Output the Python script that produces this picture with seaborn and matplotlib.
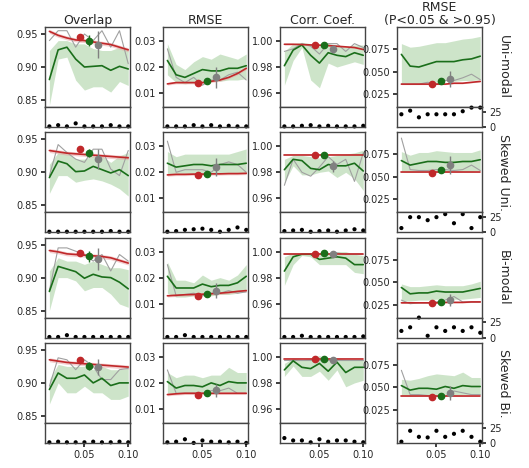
import numpy as np
import pandas as pd
import matplotlib
matplotlib.use("Agg")
import matplotlib.pyplot as plt
import seaborn as sns

x = [0.01, 0.02, 0.03, 0.04, 0.05, 0.06, 0.07, 0.08, 0.09, 0.10]
col_titles = ["Overlap", "RMSE", "Corr. Coef.", "RMSE\n(P<0.05 & >0.95)"]
row_titles = ["Uni-modal", "Skewed Uni.", "Bi-modal", "Skewed Bi."]
ylims = [(0.8394, 0.9606), (0.0046, 0.0354), (0.9492, 1.0108), (0.0106, 0.0994)]
yticks = [[0.85, 0.90, 0.95], [0.01, 0.02, 0.03], [0.96, 0.98, 1.00], [0.025, 0.050, 0.075]]
ytick_fmt = ["{:.2f}", "{:.2f}", "{:.2f}", "{:.3f}"]

green = {
 (0,0): [0.881,0.926,0.930,0.912,0.900,0.901,0.902,0.895,0.901,0.897],
 (0,1): [0.0225,0.017,0.016,0.0175,0.019,0.0185,0.0185,0.0195,0.0195,0.0205],
 (0,2): [0.981,0.993,0.997,0.989,0.983,0.991,0.989,0.988,0.991,0.989],
 (0,3): [0.069,0.056,0.055,0.058,0.061,0.061,0.061,0.063,0.064,0.067],
 (1,0): [0.892,0.917,0.913,0.901,0.902,0.909,0.904,0.899,0.904,0.895],
 (1,1): [0.0235,0.022,0.0225,0.023,0.023,0.0225,0.023,0.023,0.023,0.0235],
 (1,2): [0.982,0.990,0.989,0.983,0.982,0.986,0.985,0.985,0.987,0.981],
 (1,3): [0.068,0.063,0.065,0.067,0.067,0.066,0.066,0.067,0.067,0.069],
 (2,0): [0.879,0.917,0.913,0.909,0.899,0.905,0.901,0.900,0.893,0.883],
 (2,1): [0.0205,0.016,0.016,0.016,0.0175,0.0165,0.017,0.017,0.018,0.0205],
 (2,2): [0.985,0.996,0.998,0.998,0.994,0.995,0.996,0.995,0.990,0.990],
 (2,3): [0.044,0.037,0.038,0.038,0.040,0.039,0.039,0.039,0.041,0.043],
 (3,0): [0.890,0.915,0.907,0.907,0.912,0.900,0.907,0.896,0.900,0.900],
 (3,1): [0.0205,0.018,0.019,0.019,0.0185,0.020,0.019,0.0205,0.020,0.020],
 (3,2): [0.990,0.997,0.992,0.991,0.995,0.989,0.996,0.988,0.992,0.992],
 (3,3): [0.052,0.047,0.049,0.049,0.048,0.051,0.049,0.052,0.051,0.051],
}
green_lo = {
 (0,0): [0.842,0.912,0.915,0.880,0.865,0.870,0.870,0.862,0.878,0.872],
 (0,1): [0.017,0.014,0.0135,0.014,0.0145,0.0145,0.0145,0.015,0.015,0.0155],
 (0,2): [0.966,0.985,0.995,0.970,0.964,0.983,0.980,0.982,0.984,0.982],
 (0,3): [0.037,0.037,0.036,0.037,0.038,0.040,0.039,0.040,0.040,0.041],
 (1,0): [0.868,0.895,0.895,0.885,0.888,0.890,0.887,0.882,0.875,0.864],
 (1,1): [0.0195,0.0195,0.0195,0.0195,0.0195,0.0195,0.0195,0.0195,0.0195,0.0195],
 (1,2): [0.972,0.985,0.978,0.978,0.980,0.981,0.976,0.980,0.975,0.966],
 (1,3): [0.056,0.055,0.055,0.056,0.056,0.055,0.056,0.056,0.056,0.057],
 (2,0): [0.850,0.900,0.900,0.895,0.880,0.885,0.885,0.875,0.860,0.855],
 (2,1): [0.014,0.0125,0.0125,0.013,0.013,0.013,0.0135,0.0135,0.014,0.015],
 (2,2): [0.974,0.990,0.997,0.996,0.990,0.990,0.990,0.990,0.984,0.983],
 (2,3): [0.029,0.029,0.030,0.030,0.031,0.031,0.031,0.031,0.032,0.033],
 (3,0): [0.868,0.900,0.885,0.885,0.895,0.885,0.885,0.875,0.875,0.880],
 (3,1): [0.016,0.016,0.016,0.016,0.016,0.0165,0.0165,0.0165,0.0165,0.0165],
 (3,2): [0.985,0.993,0.985,0.985,0.989,0.982,0.990,0.977,0.980,0.982],
 (3,3): [0.041,0.040,0.041,0.041,0.041,0.042,0.041,0.042,0.042,0.042],
}
green_hi = {
 (0,0): [0.925,0.940,0.940,0.935,0.935,0.928,0.925,0.925,0.930,0.925],
 (0,1): [0.029,0.021,0.019,0.022,0.024,0.023,0.025,0.024,0.023,0.025],
 (0,2): [0.992,0.998,0.999,0.998,0.996,0.998,0.997,0.995,0.997,0.997],
 (0,3): [0.081,0.077,0.078,0.080,0.082,0.082,0.084,0.086,0.087,0.089],
 (1,0): [0.912,0.930,0.930,0.920,0.920,0.925,0.925,0.915,0.925,0.930],
 (1,1): [0.028,0.026,0.027,0.027,0.027,0.027,0.027,0.027,0.028,0.029],
 (1,2): [0.990,0.993,0.993,0.992,0.991,0.992,0.993,0.994,0.995,0.997],
 (1,3): [0.078,0.074,0.077,0.077,0.079,0.078,0.077,0.077,0.077,0.080],
 (2,0): [0.910,0.930,0.925,0.925,0.920,0.925,0.920,0.915,0.915,0.912],
 (2,1): [0.026,0.019,0.019,0.018,0.021,0.019,0.020,0.019,0.021,0.025],
 (2,2): [0.996,0.999,0.999,0.999,0.999,0.999,1.000,1.000,0.998,0.997],
 (2,3): [0.048,0.045,0.045,0.046,0.047,0.046,0.046,0.046,0.048,0.051],
 (3,0): [0.905,0.928,0.925,0.925,0.925,0.920,0.925,0.920,0.920,0.922],
 (3,1): [0.024,0.022,0.023,0.023,0.022,0.023,0.023,0.026,0.024,0.024],
 (3,2): [0.995,0.999,0.998,0.999,1.001,0.998,0.999,0.998,0.998,0.998],
 (3,3): [0.059,0.058,0.060,0.063,0.065,0.064,0.063,0.067,0.061,0.061],
}
grey = {
 (0,0): [0.940,0.955,0.955,0.930,0.950,0.940,0.955,0.930,0.955,0.905],
 (0,1): [0.027,0.016,0.014,0.016,0.013,0.015,0.015,0.017,0.018,0.015],
 (0,2): [0.992,0.994,0.998,0.996,0.990,0.998,0.998,0.992,0.998,0.995],
 (0,3): [0.036,0.036,0.036,0.038,0.036,0.040,0.040,0.043,0.047,0.041],
 (1,0): [0.895,0.942,0.930,0.920,0.915,0.935,0.935,0.905,0.895,0.933],
 (1,1): [0.032,0.020,0.021,0.021,0.021,0.020,0.023,0.024,0.023,0.020],
 (1,2): [0.970,0.990,0.980,0.977,0.984,0.992,0.986,0.990,0.973,0.995],
 (1,3): [0.093,0.058,0.057,0.057,0.058,0.058,0.057,0.058,0.063,0.057],
 (2,0): [0.880,0.945,0.945,0.940,0.935,0.925,0.935,0.910,0.935,0.925],
 (2,1): [0.025,0.013,0.0135,0.014,0.013,0.014,0.014,0.015,0.014,0.0145],
 (2,2): [0.998,0.998,0.998,0.998,0.998,0.998,0.999,0.998,0.998,0.998],
 (2,3): [0.030,0.026,0.027,0.027,0.028,0.030,0.034,0.028,0.028,0.028],
 (3,0): [0.895,0.938,0.935,0.920,0.935,0.925,0.905,0.905,0.920,0.922],
 (3,1): [0.025,0.016,0.016,0.016,0.016,0.017,0.017,0.018,0.016,0.016],
 (3,2): [0.998,0.998,0.998,0.998,0.998,0.998,0.998,0.998,0.998,0.998],
 (3,3): [0.069,0.042,0.042,0.041,0.040,0.040,0.046,0.044,0.042,0.042],
}
red = {
 (0,0): [0.954,0.948,0.944,0.941,0.940,0.938,0.936,0.934,0.930,0.926],
 (0,1): [0.0135,0.014,0.014,0.014,0.014,0.0145,0.015,0.016,0.0175,0.0195],
 (0,2): [0.9975,0.9975,0.9973,0.997,0.9968,0.9965,0.996,0.9955,0.995,0.9935],
 (0,3): [0.036,0.036,0.036,0.036,0.036,0.036,0.037,0.037,0.038,0.039],
 (1,0): [0.933,0.931,0.929,0.928,0.927,0.926,0.925,0.924,0.923,0.922],
 (1,1): [0.019,0.0192,0.0192,0.0193,0.0193,0.0194,0.0194,0.0195,0.0195,0.0196],
 (1,2): [0.9935,0.9935,0.9935,0.9935,0.9935,0.9935,0.9935,0.9935,0.9935,0.9935],
 (1,3): [0.055,0.055,0.055,0.055,0.055,0.055,0.055,0.055,0.055,0.055],
 (2,0): [0.941,0.939,0.936,0.935,0.934,0.933,0.932,0.930,0.926,0.922],
 (2,1): [0.013,0.0132,0.0134,0.0135,0.0136,0.0138,0.014,0.0143,0.0147,0.015],
 (2,2): [0.9985,0.9985,0.9985,0.9985,0.9985,0.9985,0.9985,0.9985,0.9985,0.9985],
 (2,3): [0.027,0.027,0.027,0.027,0.027,0.0275,0.0275,0.0275,0.028,0.028],
 (3,0): [0.935,0.933,0.931,0.930,0.929,0.928,0.927,0.926,0.925,0.924],
 (3,1): [0.0155,0.0158,0.016,0.016,0.016,0.016,0.016,0.016,0.016,0.016],
 (3,2): [0.9985,0.9985,0.9985,0.9985,0.9985,0.9985,0.9985,0.9985,0.9985,0.9985],
 (3,3): [0.040,0.040,0.040,0.040,0.040,0.040,0.040,0.040,0.040,0.040],
}
red_band = [0.005, 0.0008, 0.0008, 0.001]
pts = {
 (0,0): [0.946,0.940,0.934,0.008,0.020], (0,1): [0.014,0.0145,0.016,0.0005,0.004],
 (0,2): [0.997,0.9973,0.9935,0.0005,0.003], (0,3): [0.036,0.039,0.042,0.001,0.009],
 (1,0): [0.935,0.929,0.920,0.006,0.015], (1,1): [0.019,0.0195,0.022,0.0005,0.0035],
 (1,2): [0.9935,0.993,0.9845,0.0005,0.004], (1,3): [0.054,0.057,0.063,0.001,0.010],
 (2,0): [0.938,0.932,0.928,0.008,0.017], (2,1): [0.013,0.0135,0.015,0.0005,0.003],
 (2,2): [0.9985,0.9987,0.9985,0.0004,0.0008], (2,3): [0.027,0.028,0.030,0.001,0.007],
 (3,0): [0.934,0.926,0.924,0.006,0.012], (3,1): [0.0153,0.016,0.0172,0.0005,0.0025],
 (3,2): [0.9985,0.9985,0.998,0.0004,0.0008], (3,3): [0.039,0.041,0.044,0.001,0.008],
}
dots = {
 (0,0): [1,3,1,6,1,1,1,3,1,1], (0,1): [1,1,1,3,1,3,1,2,1,1],
 (0,2): [1,1,2,3,1,2,1,1,1,2], (0,3): [21,27,16,21,21,21,21,26,32,32],
 (1,0): [1,1,1,1,1,1,1,2,1,1], (1,1): [1,2,4,5,6,4,1,4,8,4],
 (1,2): [2,3,4,1,2,3,1,3,5,3], (1,3): [7,25,25,20,25,30,15,30,7,25],
 (2,0): [1,1,4,1,1,1,1,1,1,1], (2,1): [1,1,4,1,1,1,1,1,1,1],
 (2,2): [1,1,3,1,1,1,1,1,1,2], (2,3): [11,17,33,3,17,11,17,11,17,8],
 (3,0): [1,2,1,1,1,2,1,1,2,1], (3,1): [1,2,6,0,4,2,2,1,2,0],
 (3,2): [8,4,4,1,6,2,4,4,2,1], (3,3): [2,20,10,9,20,10,15,20,10,2],
}

sns.set_theme(style="ticks")
plt.rcParams['font.family'] = ['DejaVu Sans']
W, H = 529, 468
fig = plt.figure(figsize=(W/100, H/100), dpi=100)
lefts = [45, 163, 280, 397]
pw, mh, sh, rstep, top0 = 85, 80, 20, 105.3, 27
RED, GRN, GRY = "#c0282a", "#1a6e1a", "#808080"

for r in range(4):
    for c in range(4):
        k = (r, c)
        t = top0 + r*rstep
        ax = fig.add_axes([lefts[c]/W, 1-(t+mh)/H, pw/W, mh/H])
        axb = fig.add_axes([lefts[c]/W, 1-(t+mh+sh)/H, pw/W, sh/H])
        df = pd.DataFrame({"x": x, "g": green[k], "gr": grey[k], "r": red[k]})
        ax.fill_between(x, green_lo[k], green_hi[k], color="#9ccb94", alpha=0.5, lw=0)
        rr = np.array(red[k])
        ax.fill_between(x, rr-red_band[c]*0.6, rr+red_band[c]*0.6, color="#e8a0a0", alpha=0.5, lw=0)
        sns.lineplot(data=df, x="x", y="gr", ax=ax, color="#a0a0a0", lw=0.8)
        sns.lineplot(data=df, x="x", y="g", ax=ax, color=GRN, lw=1.2)
        sns.lineplot(data=df, x="x", y="r", ax=ax, color=RED, lw=1.2)
        p = pts[k]
        ax.errorbar([0.045], [p[0]], yerr=[red_band[c]*0.2], fmt="o", color=RED, ms=4.5, lw=1, zorder=5)
        ax.errorbar([0.055], [p[1]], yerr=[p[3]], fmt="o", color=GRN, ms=4.5, lw=1, zorder=5)
        ax.errorbar([0.065], [p[2]], yerr=[p[4]], fmt="o", color=GRY, ms=4.5, lw=1, zorder=5)
        ax.set_xlim(0.005, 0.102)
        ax.set_ylim(*ylims[c])
        ax.set_yticks(yticks[c])
        ax.set_yticklabels([ytick_fmt[c].format(v) for v in yticks[c]])
        ax.set_xticks([])
        ax.set_xlabel(""); ax.set_ylabel("")
        ax.tick_params(labelsize=7, length=3, pad=2)
        dd = pd.DataFrame({"x": x, "d": dots[k]})
        sns.scatterplot(data=dd, x="x", y="d", ax=axb, color="black", s=9, edgecolor="none", clip_on=False)
        axb.set_xlim(0.005, 0.102)
        axb.set_ylim(0, 33)
        axb.set_xlabel(""); axb.set_ylabel("")
        if c == 3:
            axb.yaxis.tick_right()
            axb.set_yticks([0, 25])
        else:
            axb.set_yticks([])
        if r == 3:
            axb.set_xticks([0.05, 0.10])
            axb.set_xticklabels(["0.05", "0.10"])
        else:
            axb.set_xticks([])
        axb.tick_params(labelsize=7, length=3, pad=2)
        for a in (ax, axb):
            for s in a.spines.values():
                s.set_color("#444444"); s.set_linewidth(1.0)
        if r == 0:
            ax.set_title(col_titles[c], fontsize=9, pad=2, linespacing=1.0)
        if c == 3:
            fig.text(503/W, 1-(t+mh/2)/H, row_titles[r], rotation=-90, fontsize=9,
                     va="center", ha="center")

fig.savefig("out.png", dpi=100)
